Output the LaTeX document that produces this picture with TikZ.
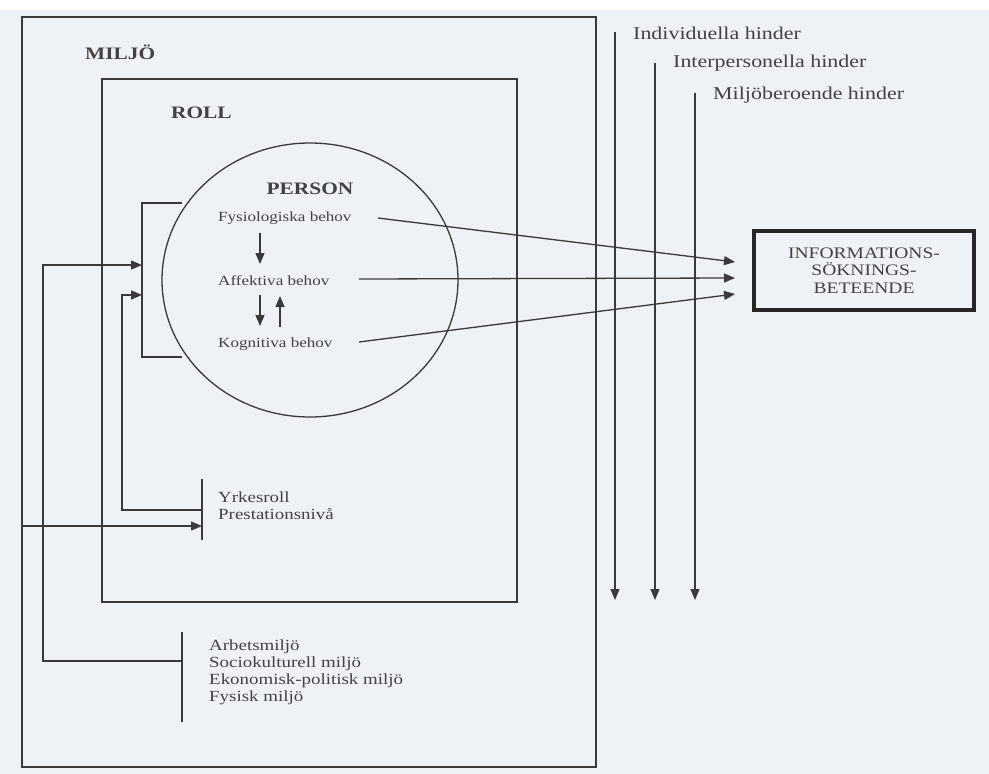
\documentclass[tikz,border=0pt]{standalone}
\usepackage{fontspec}
\setmainfont{Liberation Serif}[FakeStretch=1.22]
\usetikzlibrary{arrows.meta}
\definecolor{ink}{RGB}{58,58,60}
\definecolor{txt}{RGB}{66,66,68}
\definecolor{paper}{RGB}{238,241,245}
\begin{document}
\begin{tikzpicture}[x=1pt,y=-1pt,
  line/.style={draw=ink,line width=1.3pt},
  arr/.style={line,-{Triangle[length=11pt,width=9pt]}},
  lbl/.style={text=txt,font=\fontsize{14}{16.7}\selectfont,inner sep=0pt,anchor=west,align=left},
  lst/.style={text=txt,font=\fontsize{15.5}{17}\selectfont,inner sep=0pt,anchor=west,align=left},
  bigl/.style={text=txt,font=\fontsize{17.5}{20}\selectfont\bfseries,inner sep=0pt,anchor=west},
  hind/.style={text=txt,font=\fontsize{18}{20}\selectfont,inner sep=0pt,anchor=west},
  infobox/.style={draw=black!85,line width=4pt,minimum width=220pt,minimum height=79pt,inner sep=0pt,align=center,text=txt,font=\fontsize{16}{17.5}\selectfont}]
\fill[paper] (0,0) rectangle (989,774);
\fill[white] (0,0) rectangle (989,10);
\useasboundingbox (0,0) rectangle (989,774);
% boxes
\draw[line] (22,17) rectangle (596,767);
\draw[line] (102,79) rectangle (517,602);
\draw[line] (310,280) ellipse [x radius=148,y radius=137];
% labels
\node[bigl] (miljo) at (85,52) {MILJÖ};
\node[bigl] (roll) at (171,113) {ROLL};
\node[bigl,anchor=center] (person) at (310,189) {PERSON};
\node[lbl] (fys) at (218,218) {Fysiologiska behov};
\node[lbl] (aff) at (218,281) {Affektiva behov};
\node[lbl] (kog) at (218,344) {Kognitiva behov};
\node[lst] (yrk) at (218,506) {Yrkesroll\\Prestationsnivå};
\node[lst] (arb) at (209,672.5) {Arbetsmiljö\\Sociokulturell miljö\\Ekonomisk-politisk miljö\\Fysisk miljö};
\node[hind] (ind) at (633,33) {Individuella hinder};
\node[hind] (inter) at (673,63) {Interpersonella hinder};
\node[hind] (milj) at (713,95) {Miljöberoende hinder};
\node[infobox] (info) at (864,270.5) {INFORMATIONS-\\SÖKNINGS-\\BETEENDE};
% coordinates
\coordinate (fo) at (378,218);
\coordinate (ao) at (359,279);
\coordinate (ko) at (359,342);
\coordinate (d1a) at (260,233); \coordinate (d1b) at (260,264);
\coordinate (d2a) at (260,295); \coordinate (d2b) at (260,326);
\coordinate (u1a) at (280,327); \coordinate (u1b) at (280,296);
\coordinate (brT) at (182,203); \coordinate (brB) at (182,357);
\coordinate (brA) at (142,265); \coordinate (brC) at (142,295);
\coordinate (yT) at (202,479); \coordinate (yB) at (202,540);
\coordinate (yM) at (202,510); \coordinate (yA) at (202,526);
\coordinate (aT) at (182,632); \coordinate (aB) at (182,722);
\coordinate (aM) at (182,661);
\coordinate (edge) at (22,526);
\coordinate (h1) at (615,32); \coordinate (h1e) at (615,600);
\coordinate (h2) at (655,63); \coordinate (h2e) at (655,600);
\coordinate (h3) at (695,93); \coordinate (h3e) at (695,600);
% person arrows
\draw[arr] (d1a) -- (d1b);
\draw[arr] (d2a) -- (d2b);
\draw[arr] (u1a) -- (u1b);
% bracket around person
\draw[line] (brT) -- (142,203) -- (142,357) -- (brB);
% brackets role / env
\draw[line] (yT) -- (yB);
\draw[line] (aT) -- (aB);
% feedback
\draw[arr] (aM) -- (43,661) |- (brA);
\draw[arr] (yM) -- (122,510) |- (brC);
\draw[arr] (edge) -- (yA);
% to info
\draw[arr] (fo) -- ([xshift=-17pt,yshift=8.5pt]info.west);
\draw[arr] (ao) -- ([xshift=-17pt,yshift=-7.5pt]info.west);
\draw[arr] (ko) -- ([xshift=-17pt,yshift=-23.5pt]info.west);
% hinder
\draw[arr] (h1) -- (h1e);
\draw[arr] (h2) -- (h2e);
\draw[arr] (h3) -- (h3e);
\end{tikzpicture}
\end{document}
